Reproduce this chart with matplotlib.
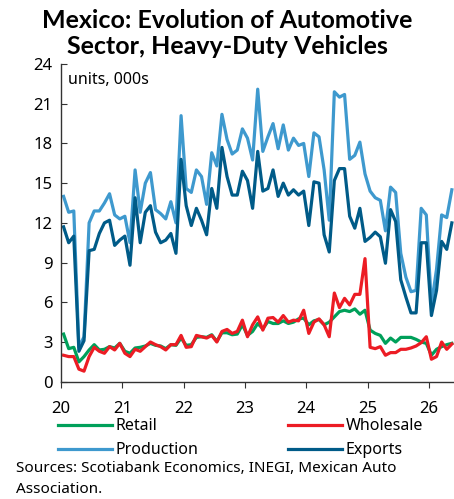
import numpy as np
import matplotlib.pyplot as plt

plt.rcParams['font.family'] = ['Noto Sans', 'DejaVu Sans']

# monthly data, Jan 2020 onwards (units, 000s)
retail = [3.6, 2.5, 2.6, 1.5, 1.9, 2.4, 2.8, 2.4, 2.45, 2.65, 2.55, 2.9,
          2.3, 2.15, 2.55, 2.6, 2.7, 2.9, 2.75, 2.7, 2.5, 2.8, 2.75, 3.3,
          2.75, 2.8, 3.35, 3.4, 3.35, 3.55, 3.05, 3.7, 3.7, 3.55, 3.6, 4.3,
          3.5, 3.8, 4.4, 4.0, 4.55, 4.4, 4.4, 4.6, 4.4, 4.5, 4.75, 4.8,
          4.3, 4.6, 4.7, 4.3, 4.5, 4.9, 5.3, 5.4, 5.3, 5.5, 5.1, 5.4,
          3.9, 3.65, 3.5, 2.9, 3.3, 3.0, 3.35, 3.35, 3.35, 3.2, 3.0, 2.9,
          2.0, 2.45, 2.65, 2.8, 2.9]
wholesale = [2.0, 1.9, 1.9, 0.95, 0.8, 1.9, 2.6, 2.3, 2.15, 2.65, 2.4, 2.9,
             2.15, 1.9, 2.45, 2.3, 2.65, 3.0, 2.8, 2.65, 2.4, 2.8, 2.8, 3.5,
             2.6, 2.65, 3.5, 3.4, 3.3, 3.5, 3.0, 3.8, 3.95, 3.65, 3.8, 4.65,
             3.4, 4.3, 4.9, 3.9, 4.8, 4.85, 4.5, 5.0, 4.5, 4.65, 4.6, 5.4,
             3.65, 4.5, 4.75, 4.3, 3.4, 6.7, 5.6, 6.3, 5.8, 6.6, 6.6, 9.3,
             2.6, 2.5, 2.65, 2.0, 2.2, 2.2, 2.45, 2.45, 2.55, 2.7, 2.95, 3.4,
             1.7, 1.9, 3.0, 2.45, 2.85]
production = [14.0, 12.8, 12.9, 2.6, 3.4, 12.0, 12.9, 12.9, 13.5, 14.2, 12.6, 12.3,
              12.5, 10.5, 16.0, 12.8, 15.0, 15.8, 13.0, 12.7, 12.3, 13.6, 12.0, 20.1,
              14.6, 14.3, 16.0, 15.5, 13.4, 17.3, 16.3, 20.2, 18.3, 17.2, 17.5, 19.1,
              18.4, 16.75, 22.1, 17.4, 18.5, 19.5, 17.6, 19.4, 17.5, 18.4, 17.85, 18.0,
              15.5, 18.8, 18.5, 16.0, 12.2, 21.9, 21.5, 21.7, 16.8, 17.1, 18.1, 15.7,
              14.4, 13.9, 13.7, 11.4, 14.7, 14.3, 9.7, 7.9, 6.8, 6.9, 13.1, 12.6,
              5.8, 8.5, 12.6, 12.4, 14.5]
exports = [11.7, 10.5, 11.0, 2.3, 3.1, 9.9, 10.0, 11.2, 12.0, 12.2, 10.3, 10.7,
           11.0, 8.8, 13.9, 10.5, 12.8, 13.3, 11.3, 10.5, 10.7, 11.2, 9.7, 16.8,
           13.3, 11.8, 13.1, 12.2, 11.1, 14.6, 13.1, 17.7, 15.5, 14.1, 14.1, 15.9,
           15.2, 13.1, 17.4, 14.4, 14.6, 16.0, 14.0, 15.0, 14.1, 14.5, 14.1, 14.4,
           11.8, 15.1, 15.0, 11.1, 9.8, 15.2, 16.1, 16.1, 12.5, 11.6, 13.1, 10.6,
           10.9, 11.3, 10.95, 8.95, 13.0, 12.1, 7.7, 6.4, 5.2, 5.2, 10.5, 10.5,
           5.0, 6.9, 10.6, 10.0, 12.0]

year_ticks = [20, 21, 22, 23, 24, 25, 26]
y_ticks = [0, 3, 6, 9, 12, 15, 18, 21, 24]

# months placed mid-month, in years since 2000
x = 20 + (np.arange(len(retail)) + 0.5) / 12.0

green = '#00A05A'
red = '#EC1C24'
light = '#3E99CE'
dark = '#005B88'

fig = plt.figure(figsize=(4.54, 4.99), dpi=100)
ax = fig.add_axes([0.1344, 0.235, 0.8656, 0.6367])

lw = 2.3
l_prod, = ax.plot(x, production, color=light, linewidth=lw)
l_exp, = ax.plot(x, exports, color=dark, linewidth=lw)
l_ret, = ax.plot(x, retail, color=green, linewidth=lw)
l_whl, = ax.plot(x, wholesale, color=red, linewidth=lw)

ax.set_xlim(20, 26.41)
ax.set_ylim(0, 24)
ax.set_xticks(year_ticks)
ax.set_xticklabels([str(t) for t in year_ticks])
ax.set_yticks(y_ticks)

for side in ['top', 'right']:
    ax.spines[side].set_visible(False)
for side in ['left', 'bottom']:
    ax.spines[side].set_color('#333333')
    ax.spines[side].set_linewidth(1.0)

ax.tick_params(axis='y', direction='in', length=4, labelsize=12, pad=6, colors='#333333', labelcolor='black')
ax.tick_params(axis='x', direction='out', length=4, labelsize=12, pad=10, colors='#333333', labelcolor='black')

ax.text(0.018, 0.975, 'units, 000s', transform=ax.transAxes, fontsize=11.5, va='top', ha='left')

fig.text(0.5, 0.982, 'Mexico: Evolution of Automotive\nSector, Heavy-Duty Vehicles',
         ha='center', va='top', fontsize=18, fontweight='bold', linespacing=1.17,
         family=['Lato', 'DejaVu Sans'])

# column-wise fill: Retail/Production in column 1, Wholesale/Exports in column 2
fig.legend([l_ret, l_prod, l_whl, l_exp], ['Retail', 'Production', 'Wholesale', 'Exports'],
           ncol=2, loc='upper left', bbox_to_anchor=(0.128, 0.162), frameon=False,
           fontsize=11.5, handlelength=3.4, handletextpad=0.2, columnspacing=5.6,
           labelspacing=0.5, borderaxespad=0, borderpad=0)

fig.text(0.035, 0.004, 'Sources: Scotiabank Economics, INEGI, Mexican Auto\nAssociation.',
         ha='left', va='bottom', fontsize=11, linespacing=1.55)

fig.savefig('out.png', dpi=100)
